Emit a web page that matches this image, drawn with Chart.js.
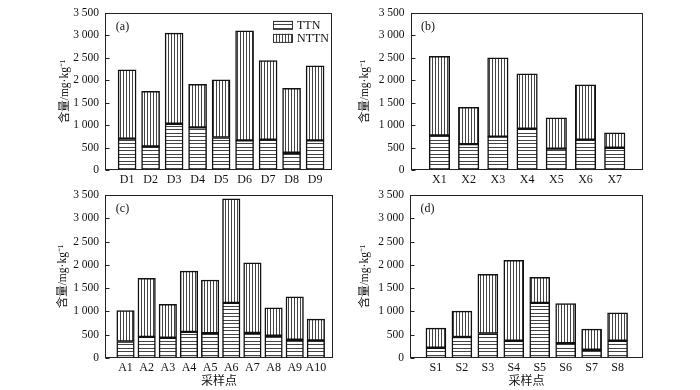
<!DOCTYPE html>
<html><head><meta charset="utf-8">
<script src="https://cdn.jsdelivr.net/npm/chart.js@4.4.1/dist/chart.umd.min.js"></script>
<style>
html, body { margin: 0; padding: 0; background: #fff; width: 700px; height: 390px; overflow: hidden; }
canvas { position: absolute; }
</style>
</head><body>
<canvas id="ca"></canvas><canvas id="cb"></canvas><canvas id="cc"></canvas><canvas id="cd"></canvas>
<script>
// 四組採樣點的 TTN / NTTN 含量 (mg/kg)，NTTN 為堆疊在 TTN 上方的部分
const labelsA = ['D1','D2','D3','D4','D5','D6','D7','D8','D9'];
const ttnA  = [700, 525, 1030, 950, 725, 660, 675, 385, 660];
const nttnA = [1530, 1225, 2020, 960, 1285, 2440, 1765, 1435, 1660];

const labelsB = ['X1','X2','X3','X4','X5','X6','X7'];
const ttnB  = [770, 575, 745, 920, 475, 675, 495];
const nttnB = [1760, 820, 1755, 1220, 690, 1225, 335];

const labelsC = ['A1','A2','A3','A4','A5','A6','A7','A8','A9','A10'];
const ttnC  = [355, 455, 435, 560, 535, 1185, 540, 478, 392, 378];
const nttnC = [665, 1255, 720, 1305, 1140, 2235, 1505, 600, 920, 457];

const labelsD = ['S1','S2','S3','S4','S5','S6','S7','S8'];
const ttnD  = [220, 450, 527, 370, 1183, 321, 178, 371];
const nttnD = [422, 555, 1269, 1726, 549, 848, 442, 598];

const yTicks = [0, 500, 1000, 1500, 2000, 2500, 3000, 3500];
const yTitle = '含量/mg·kg⁻¹';
const xTitle = '采样点';

const FONT = "'Liberation Serif', 'Noto Sans CJK SC', serif";

function hatch(dir) {
  const c = document.createElement('canvas');
  c.width = dir === 'h' ? 1 : 3;
  c.height = dir === 'h' ? 7 : 1;
  const g = c.getContext('2d');
  g.fillStyle = '#fff'; g.fillRect(0, 0, c.width, c.height);
  g.fillStyle = '#444';
  if (dir === 'h') { g.fillRect(0, 0, 1, 1); g.fillRect(0, 3, 1, 1); }
  else g.fillRect(0, 0, 1, 1);
  return g.createPattern(c, 'repeat');
}
const H_PAT = hatch('h'), V_PAT = hatch('v');

const fmt = v => v >= 1000 ? `${Math.floor(v / 1000)} ${String(v % 1000).padStart(3, '0')}` : String(v);

// 外框、內側刻度、面板標記、圖例
const frame = {
  id: 'frame',
  afterDraw(chart, args, o) {
    const { ctx, chartArea: a, scales: { y } } = chart;
    ctx.save();
    ctx.strokeStyle = '#222'; ctx.lineWidth = 1;
    const L = Math.round(a.left) + 0.5, T = Math.round(a.top) + 0.5;
    const R = Math.round(a.right) - 0.5, B = Math.round(a.bottom) - 0.5;
    ctx.strokeRect(L, T, R - L, B - T);
    ctx.beginPath();
    for (const t of yTicks) {
      const py = Math.round(y.getPixelForValue(t)) + 0.5;
      ctx.moveTo(L, py); ctx.lineTo(L + 4, py);
    }
    ctx.stroke();
    ctx.fillStyle = '#111';
    ctx.font = `12px ${FONT}`;
    ctx.textAlign = 'center'; ctx.textBaseline = 'middle';
    ctx.fillText(o.tag, a.left + 17.5, a.top + 14);
    if (o.legend) {
      ctx.textAlign = 'left';
      chart.data.datasets.forEach((ds, i) => {
        const bx = a.right - 59, by = a.top + 8 + i * 13;
        ctx.fillStyle = ds.backgroundColor;
        ctx.fillRect(bx, by, 20, 9);
        ctx.strokeStyle = '#333';
        ctx.strokeRect(bx + 0.5, by + 0.5, 19, 8);
        ctx.fillStyle = '#111';
        ctx.fillText(ds.label, bx + 24, by + 5);
      });
    }
    ctx.restore();
  }
};

const PANELS = [
  { id: 'ca', box: [0, 0, 350, 190], area: [105, 8, 332, 170], titleX: 65, tag: '(a)',
    labels: labelsA, ttn: ttnA, nttn: nttnA, xr: [0.06, 9.72], barW: 18, legend: true },
  { id: 'cb', box: [345, 0, 355, 190], area: [410.5, 7.5, 642.5, 170], titleX: 365, tag: '(b)',
    labels: labelsB, ttn: ttnB, nttn: nttnB, xr: [0.01, 7.95], barW: 20.5 },
  { id: 'cc', box: [0, 180, 350, 210], area: [105, 195, 333, 358], titleX: 63, tag: '(c)',
    labels: labelsC, ttn: ttnC, nttn: nttnC, xr: [0.03, 10.81], barW: 17.5, xTitle: true },
  { id: 'cd', box: [345, 180, 355, 210], area: [410, 195, 643, 358], titleX: 365, tag: '(d)',
    labels: labelsD, ttn: ttnD, nttn: nttnD, xr: [0.0, 8.98], barW: 20, xTitle: true },
];

function draw(p) {
  const [x, y, w, h] = p.box;
  const [l, t, r, b] = p.area;
  const cv = document.getElementById(p.id);
  cv.width = w; cv.height = h;
  cv.style.left = x + 'px'; cv.style.top = y + 'px';
  cv.style.width = w + 'px'; cv.style.height = h + 'px';

  const yTitleOff = 11.5 * 1.2 / 2 + 4;
  const padLeft = p.titleX - yTitleOff - x;
  const yW = l - x - padLeft;
  const titleBottom = 381.5 + 13 * 1.2 / 2;
  const xH = p.xTitle ? titleBottom - b : (y + h - b);
  const padBottom = Math.max(0, y + h - b - xH);

  const pts = arr => arr.map((v, i) => ({ x: i + 1, y: v }));
  new Chart(cv.getContext('2d'), {
    type: 'bar',
    data: {
      datasets: [
        { label: 'TTN', data: pts(p.ttn), backgroundColor: H_PAT, borderColor: '#111',
          borderWidth: 1.5, borderSkipped: false, stack: 's', barThickness: p.barW },
        { label: 'NTTN', data: pts(p.nttn), backgroundColor: V_PAT, borderColor: '#111',
          borderWidth: 1.5, borderSkipped: false, stack: 's', barThickness: p.barW },
      ]
    },
    options: {
      responsive: false, animation: false,
      layout: { padding: { left: padLeft, top: t - y, right: x + w - r, bottom: padBottom } },
      plugins: { legend: { display: false }, tooltip: { enabled: false },
                 frame: { tag: p.tag, legend: !!p.legend } },
      scales: {
        x: {
          type: 'linear', stacked: true, offset: false, min: p.xr[0], max: p.xr[1],
          grid: { display: false, drawTicks: false, offset: false }, border: { display: false },
          afterBuildTicks: s => { s.ticks = p.labels.map((_, i) => ({ value: i + 1 })); },
          afterFit: s => { s.height = xH; },
          ticks: { autoSkip: false, maxRotation: 0, padding: 3, color: '#111',
                   font: { family: FONT, size: 12 }, callback: v => p.labels[v - 1] },
          title: { display: !!p.xTitle, text: xTitle, color: '#111', padding: 0,
                   font: { family: FONT, size: 12 } }
        },
        y: {
          stacked: true, min: 0, max: 3500,
          grid: { display: false, drawTicks: false }, border: { display: false },
          afterBuildTicks: s => { s.ticks = yTicks.map(v => ({ value: v })); },
          afterFit: s => { s.width = yW; },
          ticks: { padding: 6, color: '#111', font: { family: FONT, size: 11.5 }, callback: fmt },
          title: { display: true, text: yTitle, color: '#111', padding: { top: 4, bottom: 4 },
                   font: { family: FONT, size: 11.5 } }
        }
      }
    },
    plugins: [frame]
  });
}

PANELS.forEach(draw);
</script>
</body></html>
